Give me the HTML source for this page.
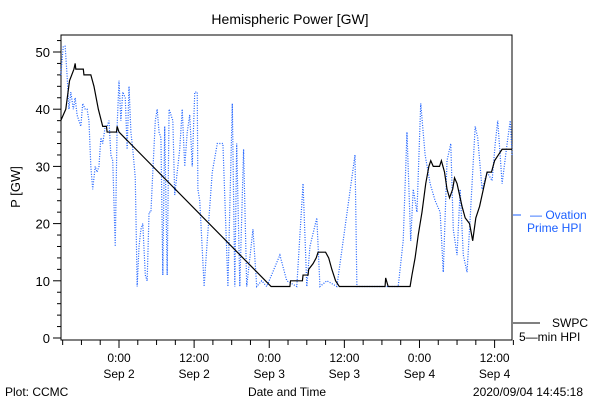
<!DOCTYPE html>
<html><head><meta charset="utf-8"><style>
body{margin:0;background:#fff;}
svg{display:block;font-family:"Liberation Sans",sans-serif;}
</style></head><body>
<svg width="600" height="400">
<rect width="600" height="400" fill="#fff"/>
<text x="290" y="24" font-size="14" text-anchor="middle">Hemispheric Power [GW]</text>
<rect x="61" y="35" width="451" height="305" fill="none" stroke="#000"/>
<g id="yaxis"></g>
<g id="xaxis"></g>
<text transform="translate(20,187) rotate(-90)" font-size="13" text-anchor="middle">P [GW]</text>
<g id="series"></g>
<line x1="513" y1="215" x2="521" y2="215" stroke="#1a5fff"/>
<text x="530" y="219" font-size="12" fill="#1a5fff">— Ovation</text>
<text x="527" y="232" font-size="12" fill="#1a5fff">Prime HPI</text>
<line x1="513" y1="323" x2="540" y2="323" stroke="#000"/>
<text x="552" y="327" font-size="12">SWPC</text>
<text x="519" y="341" font-size="12">5—min HPI</text>
<text x="5" y="396" font-size="12">Plot: CCMC</text>
<text x="287" y="396" font-size="12" text-anchor="middle">Date and Time</text>
<text x="583" y="396" font-size="12" text-anchor="end">2020/09/04 14:45:18</text>
</svg>
<script>
const yTicks=[0,10,20,30,40,50];
const xTickHours=[0,12,24,36,48,60];
const xTickTimes=["0:00","12:00","0:00","12:00","0:00","12:00"];
const xTickDates=["Sep 2","Sep 2","Sep 3","Sep 3","Sep 4","Sep 4"];
const swpcHours=[-9.3,-8.5,-7.9,-7.2,-7.0,-6.9,-5.7,-5.6,-4.5,-4.0,-3.3,-2.6,-2.0,-1.9,-0.4,-0.3,0,24.3,27.3,27.4,29.3,29.4,30.2,30.3,31.0,31.5,31.8,33.0,33.5,34.0,34.6,35.2,42.5,42.6,43,46.5,46.8,47.3,47.8,48.4,49.0,49.5,49.8,50.2,51.2,51.5,52.0,52.4,52.8,53.3,53.6,54.0,54.4,54.8,55.3,56.0,56.5,57.0,57.6,58.2,58.8,59.5,60.0,60.6,61.2,62.8];
const swpcValues=[38,40,45,47,48,47,47,46,46,44,40,37,37,36,36,37,36,9,9,10,10,11,11,12,13,14,15,15,14,12,10,9,9,10.5,9,9,11,14,18,22,27,30,31,30,30,31,29,26,24.5,26,28,27,25,23,21,20,17,21,23,26,29,29,31,32,33,33];
const ovHours=[-9.3,-8.9,-8.6,-8.3,-8.0,-7.7,-7.3,-7.0,-6.7,-6.4,-6.1,-5.8,-5.4,-5.1,-4.8,-4.5,-4.2,-3.8,-3.5,-3.2,-2.9,-2.6,-2.2,-1.9,-1.6,-1.3,-1.0,-0.6,-0.3,0,0.3,0.6,1.0,1.3,1.6,1.9,2.2,2.6,2.9,3.2,3.5,3.8,4.2,4.5,4.8,5.1,5.4,5.8,6.1,6.4,6.7,7.0,7.3,7.7,8.0,8.3,8.6,8.9,9.7,10.1,10.5,10.9,11.3,11.7,12.1,12.5,12.6,12.9,13.6,14.1,14.9,15.7,16.6,17.4,18.1,18.5,18.8,19.3,19.9,20.4,21.4,22.0,22.8,23.6,25.7,26.8,28.4,29.4,30.0,30.5,31.6,32.1,33.2,34.8,37.7,38.0,41.7,44.4,44.6,45.4,46.0,46.6,47.0,47.6,48.2,48.9,49.7,50.5,51.3,51.8,52.4,53.0,53.4,54.0,54.5,55.0,55.6,56.1,56.9,57.3,58.0,58.8,59.6,60.1,60.5,61.2,62.0,62.5,62.8];
const ovValues=[46,51,51,46,40,43,40,42,39,38,37,41,40,40,38,30,26,30,29,30,35,34,37,37,38,32,31,16,37,45,38,43,42,33,44,36,33,28,9,16,19,20,11,10,22,22,29,38,40,36,35,11,37,11,40,39,38,25,33,40,30,36,39,30,43,43,26,24,9,17,29,34,34,9,41,9,34,9,33,9,19,9,10,9,14.5,10,9,27,9,16,21,9,10,9,32,9,9,9,9,17,36,17,26,22,41,32,27,24,22,11.5,31,34,19,14.5,26,14.5,11.5,21,37,35,26,29,27.5,34,38,27,34,38,32];
const NS="http://www.w3.org/2000/svg";
const X=h=>119+h*6.26, Y=v=>338-v*5.72;
function mk(t,a,p){const e=document.createElementNS(NS,t);for(const k in a)e.setAttribute(k,a[k]);p.appendChild(e);return e;}
const ya=document.getElementById('yaxis');
for(let v=0;v<=52;v+=2){const l=mk('line',{x1:v%10===0?53:57,x2:61,y1:Y(v),y2:Y(v),stroke:'#000'},ya);

}
yTicks.forEach(v=>{const t=mk('text',{x:50,y:Y(v)+5,'font-size':13,'text-anchor':'end'},ya);t.textContent=v;

});
const xa=document.getElementById('xaxis');
for(let h=-9;h<=63;h+=3){const l=mk('line',{x1:X(h),x2:X(h),y1:340,y2:h%12===0?348:345,stroke:'#000'},xa);

}
xTickHours.forEach((h,i)=>{const t=mk('text',{x:X(h),y:362,'font-size':12,'text-anchor':'middle'},xa);t.textContent=xTickTimes[i];


const d=mk('text',{x:X(h),y:378,'font-size':12,'text-anchor':'middle'},xa);d.textContent=xTickDates[i];

});
const s=document.getElementById('series');
const op=mk('polyline',{points:ovHours.map((h,i)=>X(h)+','+Y(ovValues[i])).join(' '),fill:'none',stroke:'#1a5fff','stroke-width':1.2,'stroke-dasharray':'1 1.5'},s);


const sp=mk('polyline',{points:swpcHours.map((h,i)=>X(h)+','+Y(swpcValues[i])).join(' '),fill:'none',stroke:'#000','stroke-width':1.2},s);


</script>
</body></html>
